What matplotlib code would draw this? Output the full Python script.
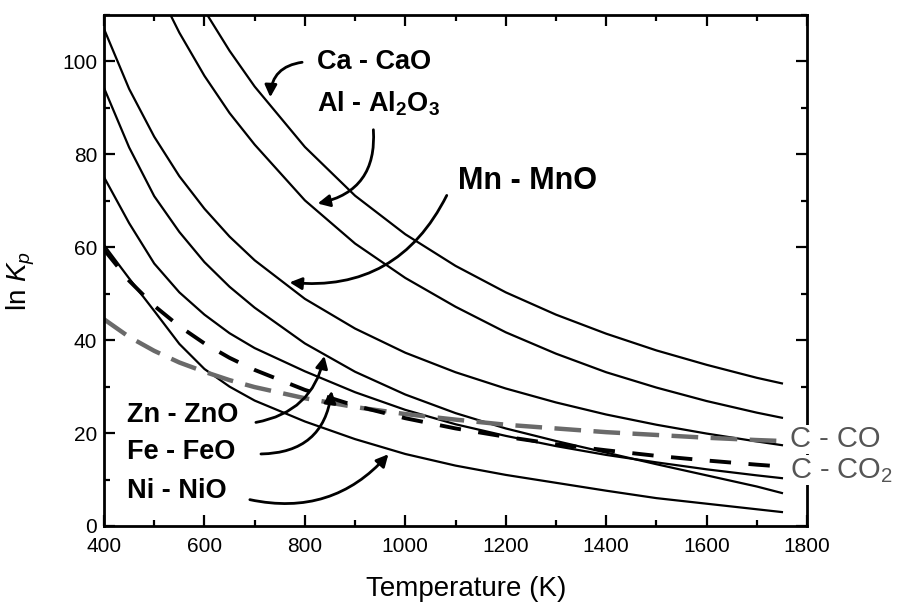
import matplotlib
matplotlib.use("Agg")
import matplotlib.pyplot as plt
from matplotlib.ticker import MultipleLocator

plt.rcParams['font.family'] = ['Liberation Sans', 'DejaVu Sans']
plt.rcParams['mathtext.fontset'] = 'custom'
plt.rcParams['mathtext.rm'] = 'Liberation Sans'
plt.rcParams['mathtext.it'] = 'Liberation Sans:italic'
plt.rcParams['mathtext.bf'] = 'Liberation Sans:bold'

# temperatures (K)
T = [400, 450, 500, 550, 600, 650, 700, 800, 900, 1000, 1100, 1200,
     1300, 1400, 1500, 1600, 1700, 1750]
T_ca = [600, 650, 700, 800, 900, 1000, 1100, 1200, 1300, 1400, 1500,
        1600, 1700, 1750]
T_al = [520, 550, 600, 650, 700, 800, 900, 1000, 1100, 1200, 1300, 1400,
        1500, 1600, 1700, 1750]

# ln Kp
ca_cao = [111.0, 102.3, 94.6, 81.6, 71.1, 62.8, 56.0, 50.3, 45.5, 41.4,
          37.8, 34.7, 31.9, 30.7]
al_al2o3 = [112.7, 106.2, 96.9, 88.9, 82.1, 70.1, 60.8, 53.4, 47.2, 41.7,
            37.1, 33.1, 29.8, 26.9, 24.4, 23.3]
mn_mno = [107.0, 94.1, 83.8, 75.3, 68.3, 62.3, 57.2, 48.9, 42.5, 37.3, 33.1,
          29.6, 26.6, 24.0, 21.8, 19.9, 18.2, 17.4]
zn_zno = [94.3, 81.5, 71.0, 63.3, 56.8, 51.5, 47.0, 39.3, 33.2, 28.3, 24.3,
          21.0, 18.3, 15.8, 13.3, 10.9, 8.5, 7.1]
fe_feo = [75.1, 65.2, 56.5, 50.3, 45.5, 41.5, 38.3, 33.3, 28.8, 25.0, 21.9,
          19.4, 17.2, 15.3, 13.7, 12.2, 10.9, 10.3]
ni_nio = [60.5, 53.3, 46.3, 39.2, 33.8, 30.0, 27.0, 22.5, 18.7, 15.5, 13.0,
          11.0, 9.3, 7.6, 6.0, 4.8, 3.6, 3.0]
c_co2 = [59.5, 52.8, 47.4, 43.0, 39.3, 36.2, 33.6, 29.3, 25.9, 23.2, 21.0,
         19.2, 17.6, 16.3, 15.1, 14.1, 13.2, 12.8]
c_co = [44.5, 40.7, 37.7, 35.2, 33.2, 31.4, 29.9, 27.5, 25.6, 24.1, 22.9,
        21.8, 21.0, 20.2, 19.6, 19.0, 18.5, 18.3]

fig = plt.figure(figsize=(8.99, 6.03), dpi=100)
ax = fig.add_axes([0.1157, 0.1277, 0.782, 0.8474])

lw = 1.6
ax.plot(T_ca, ca_cao, 'k-', lw=lw)
ax.plot(T_al, al_al2o3, 'k-', lw=lw)
ax.plot(T, mn_mno, 'k-', lw=lw)
ax.plot(T, zn_zno, 'k-', lw=lw)
ax.plot(T, fe_feo, 'k-', lw=lw)
ax.plot(T, ni_nio, 'k-', lw=lw)
ax.plot(T, c_co, color='#6a6a6a', lw=3.2, dashes=(6, 2.8))
ax.plot(T, c_co2, color='black', lw=2.8, dashes=(5.5, 4.5))

ax.set_xlim(400, 1800)
ax.set_ylim(0, 110)
ax.xaxis.set_major_locator(MultipleLocator(200))
ax.xaxis.set_minor_locator(MultipleLocator(100))
ax.yaxis.set_major_locator(MultipleLocator(20))
ax.yaxis.set_minor_locator(MultipleLocator(10))
ax.tick_params(which='both', direction='in', top=True, right=True, width=1.6)
ax.tick_params(which='major', length=8, labelsize=15)
ax.tick_params(axis='x', which='major', pad=8)
ax.tick_params(axis='y', which='major', pad=5)
ax.tick_params(which='minor', length=4.5)
for s in ax.spines.values():
    s.set_linewidth(2)

ax.set_xlabel("Temperature (K)", fontsize=20)
ax.set_ylabel("ln $K_p$", fontsize=20)
ax.xaxis.set_label_coords(0.515, -0.097)
ax.yaxis.set_label_coords(-0.095, 0.48)

# labels
bold = dict(fontsize=19.5, fontweight='bold', ha='left', va='center')
ax.text(824, 99.9, "Ca - CaO", **bold)
ax.text(824, 91.0, r"Al - Al$_\mathbf{2}$O$_\mathbf{3}$", **bold)
ax.text(1105, 74.3, "Mn - MnO", fontsize=22, fontweight='bold',
        ha='left', va='center')
ax.text(446, 23.9, "Zn - ZnO", **bold)
ax.text(446, 15.9, "Fe - FeO", **bold)
ax.text(446, 7.5, "Ni - NiO", **bold)
box = dict(facecolor='white', edgecolor='none', pad=0.5)
ax.text(1766, 18.7, "C - CO", fontsize=21, color='#555555', ha='left',
        va='center', bbox=box, zorder=5)
ax.text(1766, 12.0, "C - CO$_2$", fontsize=21, color='#555555', ha='left',
        va='center', bbox=box, zorder=5)

arr = dict(arrowstyle='-|>', color='black', lw=2, mutation_scale=18)
ax.annotate("", xy=(731, 91.7), xytext=(800, 99.9),
            arrowprops=dict(connectionstyle="arc3,rad=0.45", **arr))
ax.annotate("", xy=(820, 69.3), xytext=(936, 85.9),
            arrowprops=dict(connectionstyle="arc3,rad=-0.45", **arr))
ax.annotate("", xy=(764, 52.5), xytext=(1085, 71.7),
            arrowprops=dict(connectionstyle="arc3,rad=-0.35", **arr))
ax.annotate("", xy=(840, 37.2), xytext=(697, 22.2),
            arrowprops=dict(connectionstyle="arc3,rad=0.35", **arr))
ax.annotate("", xy=(854, 29.7), xytext=(707, 15.5),
            arrowprops=dict(connectionstyle="arc3,rad=0.45", **arr))
ax.annotate("", xy=(970, 15.9), xytext=(685, 5.8),
            arrowprops=dict(connectionstyle="arc3,rad=0.3", **arr))

fig.savefig("out.png", dpi=100)
